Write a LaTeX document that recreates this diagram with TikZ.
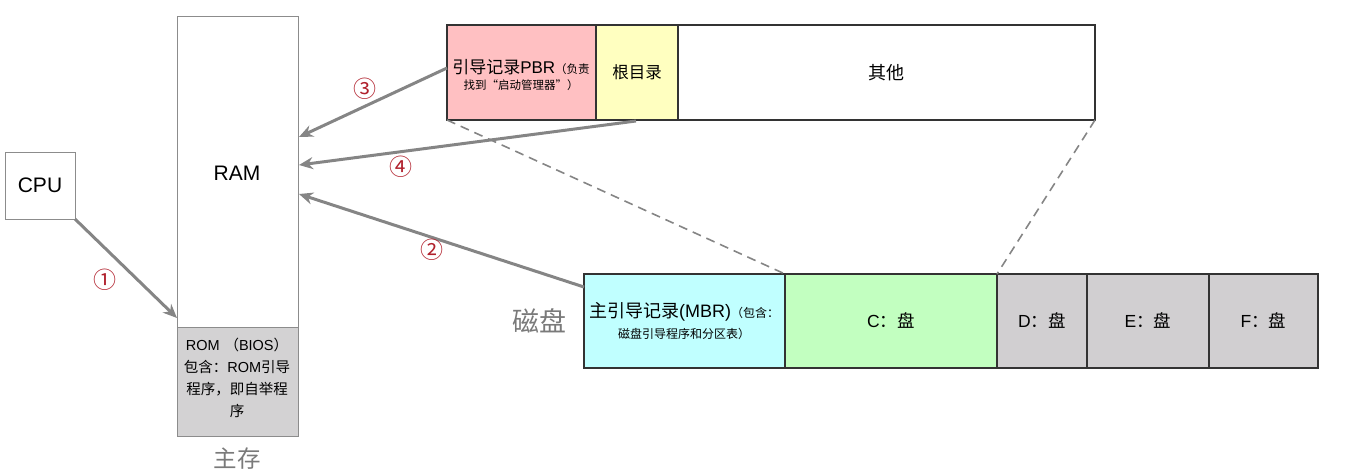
\documentclass[tikz,border=0pt]{standalone}
\usepackage{fontspec}
\setmainfont{Liberation Sans}
\newfontfamily\cjk{Noto Sans CJK SC}
\usetikzlibrary{arrows.meta}
\definecolor{pbrpink}{HTML}{FFC0C2}
\definecolor{rootyellow}{HTML}{FFFFC0}
\definecolor{mbrcyan}{HTML}{C0FFFF}
\definecolor{cgreen}{HTML}{C2FFC0}
\definecolor{partgray}{HTML}{D1CFD1}
\definecolor{romgray}{HTML}{D3D2D3}
\definecolor{arrowgray}{HTML}{858585}
\definecolor{numred}{HTML}{B0202C}
\definecolor{labelgray}{HTML}{7A7A7A}
\tikzset{
  cell/.style={draw=black!80, line width=1.2pt, inner sep=0pt, outer sep=0pt, anchor=north west, align=center},
  lightbox/.style={draw=black!45, line width=1pt, inner sep=0pt, outer sep=0pt, anchor=north west, align=center, fill=white},
  flow/.style={draw=arrowgray, line width=3pt, -{Stealth[length=14pt,width=12pt]}},
  num/.style={text=numred, font=\cjk\fontsize{23}{23}\selectfont},
  guide/.style={draw=arrowgray, line width=1.6pt, dash pattern=on 9pt off 6pt},
  caption/.style={text=labelgray}
}
\begin{document}
\begin{tikzpicture}[x=1pt,y=-1pt]
\useasboundingbox (0,0) rectangle (1370,475);
% CPU
\node[lightbox, minimum width=70pt, minimum height=67pt, font=\fontsize{21}{21}\selectfont] (cpu) at (5,152) {CPU};
% RAM / ROM
\node[lightbox, minimum width=121pt, minimum height=311pt] (ram) at (177,16) {};
\node[font=\fontsize{21}{21}\selectfont] (ramlbl) at (237,173) {RAM};
\node[lightbox, fill=romgray, minimum width=121pt, minimum height=109pt] (rom) at (177,327) {};
\node[align=center, font=\fontsize{14.5}{22}\selectfont, text width=120pt] (romtxt) at (237,378) {ROM {\cjk （}BIOS{\cjk ）}\\{\cjk 包含：}ROM{\cjk 引导}\\{\cjk 程序，即自举程}\\{\cjk 序}};
\node[caption, font=\cjk\fontsize{23.5}{23.5}\selectfont] (mainmem) at (237,459) {主存};
% PBR strip
\node[cell, fill=pbrpink, minimum width=149pt, minimum height=95pt] (pbr) at (447,25) {};
\node[align=center, font=\fontsize{11.5}{16}\selectfont] (pbrtxt) at (521,75) {{\fontsize{17}{17}\selectfont{\cjk 引导记录}PBR}{\cjk （负责}\\{\cjk 找到“启动管理器”）}};
\node[cell, fill=rootyellow, minimum width=82pt, minimum height=95pt, font=\cjk\fontsize{16.5}{16.5}\selectfont] (root) at (596,25) {根目录};
\node[cell, fill=white, minimum width=417pt, minimum height=95pt, font=\cjk\fontsize{18}{18}\selectfont] (other) at (678,25) {其他};
% Disk strip
\node[caption, font=\cjk\fontsize{27}{27}\selectfont] (disk) at (539,321) {磁盘};
\node[cell, fill=mbrcyan, minimum width=201pt, minimum height=94pt] (mbr) at (584,274) {};
\node[align=center, font=\fontsize{12}{21}\selectfont] (mbrtxt) at (684,321) {{\fontsize{18}{18}\selectfont{\cjk 主引导记录}(MBR)}{\cjk （包含：}\\{\cjk 磁盘引导程序和分区表）}};
\node[cell, fill=cgreen, minimum width=212pt, minimum height=94pt, font=\fontsize{17.5}{17.5}\selectfont] (cdisk) at (785,274) {C{\cjk ：盘}};
\node[cell, fill=partgray, minimum width=90pt, minimum height=94pt, font=\fontsize{17.5}{17.5}\selectfont] (ddisk) at (997,274) {D{\cjk ：盘}};
\node[cell, fill=partgray, minimum width=122pt, minimum height=94pt, font=\fontsize{17.5}{17.5}\selectfont] (edisk) at (1087,274) {E{\cjk ：盘}};
\node[cell, fill=partgray, minimum width=109pt, minimum height=94pt, font=\fontsize{17.5}{17.5}\selectfont] (fdisk) at (1209,274) {F{\cjk ：盘}};
% dashed zoom guides
\draw[guide] (pbr.south west) -- (cdisk.north west);
\draw[guide] (other.south east) -- (ddisk.north west);
% arrows
\coordinate (rom1) at (177,318);
\coordinate (ram2) at (299,194);
\coordinate (ram3) at (299,137);
\coordinate (ram4) at (299,165);
\coordinate (pbr3) at (447,68);
\coordinate (root4) at (636,121);
\coordinate (mbr2) at (584,287);
\draw[flow] (cpu.south east) -- (rom1);
\draw[flow] (mbr2) -- (ram2);
\draw[flow] (pbr3) -- (ram3);
\draw[flow] (root4) -- (ram4);
\node[num] (n1) at (105,280) {①};
\node[num] (n2) at (432,250) {②};
\node[num] (n3) at (365,89) {③};
\node[num] (n4) at (401,167) {④};
\end{tikzpicture}
\end{document}
